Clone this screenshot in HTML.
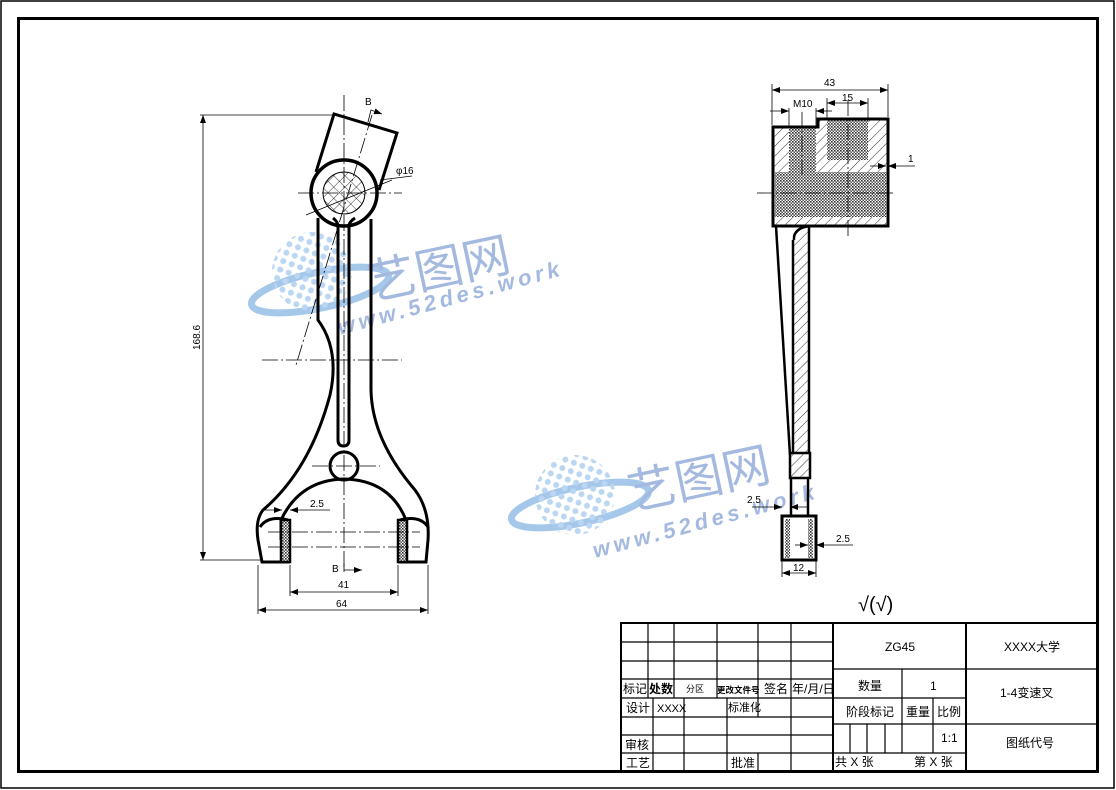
<!DOCTYPE html>
<html><head><meta charset="utf-8"><style>
html,body{margin:0;padding:0;background:#fff}
svg{display:block}
text{font-family:"Liberation Sans","Noto Sans CJK SC",sans-serif}
.t{font-family:"Liberation Serif","Noto Serif CJK SC","Noto Sans CJK SC",serif;font-size:12px}
</style></head><body>
<svg width="1116" height="790" viewBox="0 0 1116 790" xmlns="http://www.w3.org/2000/svg">
<defs>
<pattern id="hatch" width="7" height="7" patternUnits="userSpaceOnUse" patternTransform="rotate(45)"><line x1="0" y1="0" x2="0" y2="7" stroke="#000" stroke-width="0.8"/></pattern>
<pattern id="dots" width="3" height="3" patternUnits="userSpaceOnUse"><rect width="3" height="3" fill="#fff"/><rect width="1.6" height="1.6" fill="#333"/><rect x="1.5" y="1.5" width="1.5" height="1.5" fill="#555"/></pattern>
<pattern id="xh" width="8" height="8" patternUnits="userSpaceOnUse" patternTransform="rotate(45)"><path d="M0 0V8M0 0H8" stroke="#000" stroke-width="0.8"/></pattern>
<pattern id="wd" width="9" height="9" patternUnits="userSpaceOnUse" patternTransform="rotate(20)"><circle cx="4.5" cy="4.5" r="3" fill="#a9cdf0"/></pattern>
<marker id="ar" markerWidth="8" markerHeight="6" refX="8" refY="3" orient="auto-start-reverse" markerUnits="userSpaceOnUse"><path d="M0 0L8 3L0 6z" fill="#000"/></marker>
</defs>
<rect x="1" y="1" width="1113" height="787" fill="none" stroke="#000" stroke-width="1.5"/>
<rect x="18.5" y="18.5" width="1079" height="753" fill="none" stroke="#000" stroke-width="3"/>

<!-- watermark 1 -->
<g opacity="0.8">
<ellipse cx="320" cy="290" rx="70" ry="18" transform="rotate(-12 320 290)" fill="none" stroke="#8fbbe6" stroke-width="7"/>
<circle cx="312" cy="272" r="40" fill="url(#wd)"/>
<text x="372" y="300" transform="rotate(-12 372 300)" font-size="48" fill="#8ea8d8" font-family="Noto Sans CJK SC,sans-serif">艺图网</text>
<text x="340" y="335" transform="rotate(-15 340 335)" font-size="22" font-weight="bold" font-style="italic" fill="#8ea8d8" letter-spacing="4">www.52des.work</text>
</g>
<g opacity="0.8">
<ellipse cx="580" cy="505" rx="70" ry="18" transform="rotate(-12 580 505)" fill="none" stroke="#8fbbe6" stroke-width="7"/>
<circle cx="575" cy="495" r="40" fill="url(#wd)"/>
<text x="632" y="510" transform="rotate(-12 632 510)" font-size="48" fill="#8ea8d8" font-family="Noto Sans CJK SC,sans-serif">艺图网</text>
<text x="595" y="558" transform="rotate(-15 595 558)" font-size="22" font-weight="bold" font-style="italic" fill="#8ea8d8" letter-spacing="4">www.52des.work</text>
</g>

<!-- LEFT VIEW -->
<g fill="none" stroke="#000">
<line x1="203" y1="115" x2="203" y2="560" stroke-width="0.8" marker-start="url(#ar)" marker-end="url(#ar)"/>
<line x1="200" y1="115" x2="334" y2="115" stroke-width="0.8"/>
<line x1="200" y1="560" x2="262" y2="560" stroke-width="0.8"/>
<path d="M316 172 L334 114 L397 133 L379 190" stroke-width="3"/>
<circle cx="344" cy="193" r="33" stroke-width="3.5" fill="#fff"/>
<circle cx="344" cy="193" r="21" fill="url(#xh)" stroke-width="1"/>
<path d="M318 218 L318 320 Q340 350 330 395 Q310 470 263 510 Q255 520 258 540 L262 562 L290 562" stroke-width="3"/>
<path d="M371 219 L371 390 Q372 440 415 490 Q430 510 428 540 L426 562 L398 562" stroke-width="3"/>
<path d="M338 226 L338 440 Q338 446 343.5 446 Q349 446 349 440 L349 226 Q349 222 355 218 M338 226 Q338 222 333 218" stroke-width="3"/>
<circle cx="344" cy="466" r="14" stroke-width="3"/>
<path d="M281 540 L281 520 Q300 480 344 479 Q390 480 406 520 L406 540" stroke-width="3"/>
<path d="M260 527 Q268 515 288 520 M428 527 Q420 515 400 520" stroke-width="3"/>
<rect x="281" y="520" width="9" height="42" fill="url(#dots)" stroke-width="2.5"/>
<rect x="398" y="520" width="9" height="42" fill="url(#dots)" stroke-width="2.5"/>
<g stroke-width="0.8" stroke-dasharray="16 3 2 3">
<line x1="344" y1="95" x2="344" y2="572"/>
<line x1="298" y1="193" x2="402" y2="193"/>
<line x1="262" y1="360" x2="402" y2="360"/>
<line x1="312" y1="466" x2="380" y2="466"/>
<line x1="268" y1="532" x2="420" y2="532"/>
<line x1="268" y1="547" x2="420" y2="547"/>
<line x1="372" y1="115" x2="296" y2="365"/>
</g>
<line x1="306" y1="215" x2="392" y2="180" stroke-width="0.8"/>
<line x1="380" y1="180" x2="412" y2="176" stroke-width="0.8"/>
<path d="M368 122 L371 110 L382 114" stroke-width="0.8" marker-end="url(#ar)"/>
<path d="M344 563 L344 570 L362 570" stroke-width="0.8" marker-end="url(#ar)"/>
<line x1="290" y1="565" x2="290" y2="596" stroke-width="0.8"/>
<line x1="398" y1="565" x2="398" y2="596" stroke-width="0.8"/>
<line x1="290" y1="592" x2="398" y2="592" stroke-width="0.8" marker-start="url(#ar)" marker-end="url(#ar)"/>
<line x1="258" y1="565" x2="258" y2="614" stroke-width="0.8"/>
<line x1="428" y1="565" x2="428" y2="614" stroke-width="0.8"/>
<line x1="258" y1="610" x2="428" y2="610" stroke-width="0.8" marker-start="url(#ar)" marker-end="url(#ar)"/>
<line x1="262" y1="510" x2="282" y2="510" stroke-width="0.8" marker-end="url(#ar)"/>
<line x1="330" y1="510" x2="290" y2="510" stroke-width="0.8" marker-end="url(#ar)"/>
</g>
<g font-size="10" fill="#000">
<text x="365" y="105">B</text>
<text x="396" y="174">φ16</text>
<text x="332" y="572">B</text>
<text x="310" y="507">2.5</text>
<text x="338" y="588">41</text>
<text x="336" y="607">64</text>
<text x="200" y="350" transform="rotate(-90 200 350)">168.6</text>
</g>

<!-- RIGHT VIEW -->
<g stroke="#000" fill="none">
<path d="M773 127 L818 127 L818 119 L888 119 L888 226 L773 226 Z" fill="url(#hatch)" stroke-width="3"/>
<rect x="789" y="127" width="27" height="46" fill="url(#dots)" stroke="none"/>
<rect x="827" y="119" width="41" height="41" fill="url(#dots)" stroke="none"/>
<rect x="775" y="172" width="111" height="45" fill="url(#dots)" stroke="none"/>
<path d="M773 127 L818 127 L818 119 L888 119 L888 226 L773 226 Z" stroke-width="3"/>
<path d="M776 226 L790 455" stroke-width="2.5"/>
<rect x="793" y="226" width="16" height="227" fill="url(#hatch)" stroke="none"/>
<path d="M794 240 Q793 228 810 226 M809 226 L809 453 M793 240 L793 453" stroke-width="2.5"/>
<rect x="790" y="453" width="20" height="25" fill="url(#hatch)" stroke-width="2.5"/>
<path d="M791 478 L791 516 M808 478 L808 516" stroke-width="2.5"/>
<rect x="782" y="516" width="34" height="44" fill="#fff" stroke-width="3"/>
<rect x="785" y="519" width="5" height="39" fill="url(#dots)" stroke="none"/>
<rect x="808" y="519" width="5" height="39" fill="url(#dots)" stroke="none"/>
<g stroke-width="0.8" stroke-dasharray="16 3 2 3">
<line x1="757" y1="193" x2="893" y2="193"/>
<line x1="848" y1="100" x2="848" y2="236"/>
<line x1="802" y1="112" x2="802" y2="175"/>
</g>
<g stroke-width="0.8">
<line x1="772" y1="84" x2="772" y2="125"/><line x1="888" y1="84" x2="888" y2="117"/>
<line x1="772" y1="90" x2="888" y2="90" marker-start="url(#ar)" marker-end="url(#ar)"/>
<line x1="827" y1="98" x2="827" y2="118"/><line x1="868" y1="98" x2="868" y2="118"/>
<line x1="827" y1="103" x2="868" y2="103" marker-start="url(#ar)" marker-end="url(#ar)"/>
<line x1="789" y1="108" x2="789" y2="127"/><line x1="816" y1="108" x2="816" y2="127"/>
<line x1="770" y1="111" x2="789" y2="111" marker-end="url(#ar)"/>
<line x1="832" y1="111" x2="816" y2="111" marker-end="url(#ar)"/>
<line x1="915" y1="166" x2="888" y2="166" marker-end="url(#ar)"/>
<line x1="870" y1="166" x2="886" y2="166" marker-end="url(#ar)"/>
<line x1="752" y1="507" x2="782" y2="507" marker-end="url(#ar)"/>
<line x1="808" y1="507" x2="790" y2="507" marker-end="url(#ar)"/>
<line x1="853" y1="545" x2="816" y2="545" marker-end="url(#ar)"/>
<line x1="795" y1="545" x2="808" y2="545" marker-end="url(#ar)"/>
<line x1="782" y1="560" x2="782" y2="577"/><line x1="816" y1="560" x2="816" y2="577"/>
<line x1="782" y1="573" x2="816" y2="573" marker-start="url(#ar)" marker-end="url(#ar)"/>
</g>
</g>
<g font-size="10" fill="#000">
<text x="824" y="86">43</text>
<text x="793" y="107">M10</text>
<text x="842" y="101">15</text>
<text x="908" y="162">1</text>
<text x="747" y="503">2.5</text>
<text x="836" y="542">2.5</text>
<text x="793" y="571">12</text>
</g>
<text x="858" y="611" font-size="20" font-family="DejaVu Sans,sans-serif">√(√)</text>

<!-- TITLE BLOCK -->
<g stroke="#000" stroke-width="1.2" fill="none">
<rect x="621" y="623" width="476" height="149" stroke-width="2"/>
<line x1="833" y1="623" x2="833" y2="772" stroke-width="2"/>
<line x1="966" y1="623" x2="966" y2="772" stroke-width="2"/>
<path d="M621 642H833M621 661H833M621 679H833M621 698H833M621 717H833M621 735H833M621 753H833"/>
<path d="M648 623V698M674 623V698M717 623V698M758 623V698M791 623V772"/>
<path d="M653 698V772M684 698V772M727 698V772M758 698V717M758 753V772"/>
<path d="M833 669H1097M833 698H966M833 724H1097M833 753H966"/>
<path d="M902 669V753M933 698V753M850 724V753M867 724V753M885 724V753"/>
</g>
<g class="t" fill="#000">
<text x="623" y="693" font-size="12">标记</text>
<text x="649" y="693" font-size="12" font-weight="bold">处数</text>
<text x="686" y="692" font-size="9">分区</text>
<text x="717" y="693" font-size="8.5" font-weight="bold">更改文件号</text>
<text x="764" y="693" font-size="12">签名</text>
<text x="792" y="693" font-size="12">年/月/日</text>
<text x="626" y="712">设计</text>
<text x="657" y="712" font-size="11">XXXX</text>
<text x="728" y="711" font-size="11">标准化</text>
<text x="625" y="749">审核</text>
<text x="626" y="767">工艺</text>
<text x="731" y="767">批准</text>
<text x="885" y="651">ZG45</text>
<text x="1004" y="651">XXXX大学</text>
<text x="858" y="690">数量</text>
<text x="930" y="690">1</text>
<text x="1000" y="697">1-4变速叉</text>
<text x="846" y="716">阶段标记</text>
<text x="906" y="716">重量</text>
<text x="937" y="716">比例</text>
<text x="941" y="742">1:1</text>
<text x="1006" y="747">图纸代号</text>
<text x="835" y="766">共 X 张</text>
<text x="914" y="766">第 X 张</text>
</g>
</svg>
</body></html>
